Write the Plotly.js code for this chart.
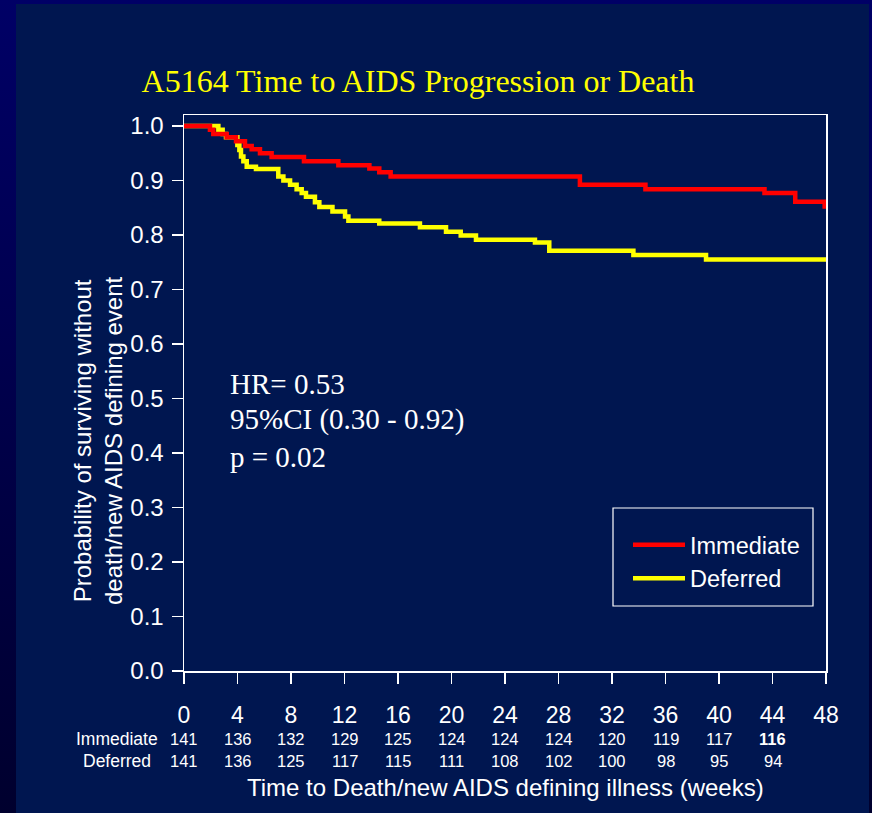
<!DOCTYPE html>
<html>
<head>
<meta charset="utf-8">
<script src="https://cdn.plot.ly/plotly-3.0.1.min.js"></script>
<style>
  html, body { margin: 0; padding: 0; width: 872px; height: 813px; overflow: hidden;
    background: linear-gradient(to bottom, #000066, #00002e); }
  #bg { position: absolute; left: 16px; top: 4px; width: 853px; height: 809px; background: #001650; }
  #chart { position: absolute; left: 0; top: 0; width: 872px; height: 813px; }
</style>
</head>
<body>
<div id="bg"></div>
<div id="chart"></div>
<script>
// Kaplan-Meier step data (weeks, survival probability)
const immTimes = [0, 1.94, 2.19, 3.19, 3.89, 4.56, 5.06, 5.68, 6.55, 8.97, 11.54, 13.86, 14.6, 15.45, 29.6, 34.5, 43.4, 45.7, 47.9, 48];
const immSurv  = [1.0, 0.993, 0.985, 0.979, 0.972, 0.963, 0.957, 0.950, 0.943, 0.935, 0.928, 0.922, 0.915, 0.907, 0.892, 0.884, 0.877, 0.861, 0.852, 0.852];

const defTimes = [0, 2.57, 2.89, 3.14, 3.99, 4.14, 4.26, 4.44, 4.69, 5.38, 7.05, 7.43, 7.93, 8.42, 8.80, 9.12, 9.79, 10.12, 11.1, 12.04, 12.29, 14.6, 17.64, 19.59, 20.69, 21.83, 26.24, 27.31, 33.6, 39.03, 48];
const defSurv  = [1.0, 0.993, 0.985, 0.979, 0.965, 0.956, 0.944, 0.935, 0.925, 0.921, 0.907, 0.900, 0.892, 0.884, 0.877, 0.870, 0.860, 0.851, 0.843, 0.834, 0.826, 0.821, 0.814, 0.806, 0.799, 0.791, 0.786, 0.771, 0.763, 0.755, 0.755];

// Number at risk table
const riskWeeks = [0, 4, 8, 12, 16, 20, 24, 28, 32, 36, 40, 44];
const immRisk = [141, 136, 132, 129, 125, 124, 124, 124, 120, 119, 117, 116];
const defRisk = [141, 136, 125, 117, 115, 111, 108, 102, 100, 98, 95, 94];

const xTicks = [0, 4, 8, 12, 16, 20, 24, 28, 32, 36, 40, 44, 48];
const yTicks = [0, 0.1, 0.2, 0.3, 0.4, 0.5, 0.6, 0.7, 0.8, 0.9, 1.0];

const statLines = ["HR= 0.53", "95%CI (0.30 - 0.92)", "p = 0.02"];
const rowLabels = ["Immediate", "Deferred"];

const SANS = "Liberation Sans, Arial, sans-serif";
const SERIF = "Liberation Serif, Times New Roman, serif";
const WHITE = "#ffffff";

// pixel helpers (plot area: x 184..826, y 115..671)
const L = 184, R = 826, T = 115, B = 671, W = 872, H = 813;
const px2xp = p => (p - L) / (R - L);
const py2yp = p => (B - p) / (B - T);

const traces = [
  { x: defTimes, y: defSurv, type: "scatter", mode: "lines", name: "Deferred",
    line: { color: "#ffff00", width: 4.5, shape: "hv" }, legendrank: 2 },
  { x: immTimes, y: immSurv, type: "scatter", mode: "lines", name: "Immediate",
    line: { color: "#ff0000", width: 4.5, shape: "hv" }, legendrank: 1 }
];

const annotations = [];
// stats text
statLines.forEach((t, i) => {
  annotations.push({ text: t, xref: "paper", yref: "paper", x: px2xp(228), y: py2yp([384, 420, 457][i]),
    xanchor: "left", yanchor: "middle", showarrow: false, font: { family: SERIF, size: 29, color: WHITE } });
});
// risk table row labels
[738.5, 761].forEach((py, i) => {
  annotations.push({ text: rowLabels[i], xref: "paper", yref: "paper", x: px2xp(117), y: py2yp(py),
    xanchor: "center", yanchor: "middle", showarrow: false, font: { family: SANS, size: 17.5, color: WHITE } });
});
riskWeeks.forEach((w, i) => {
  annotations.push({ text: i === immRisk.length - 1 ? "<b>" + immRisk[i] + "</b>" : String(immRisk[i]),
    xref: "x", yref: "paper", x: w, y: py2yp(738.5), xanchor: "center", yanchor: "middle",
    showarrow: false, font: { family: SANS, size: 16.5, color: WHITE } });
  annotations.push({ text: String(defRisk[i]),
    xref: "x", yref: "paper", x: w, y: py2yp(761), xanchor: "center", yanchor: "middle",
    showarrow: false, font: { family: SANS, size: 16.5, color: WHITE } });
});
// y-axis title (two lines, rotated)
annotations.push({ text: "Probability of surviving without<br>death/new AIDS defining event",
  xref: "paper", yref: "paper", x: px2xp(98), y: py2yp(441), xanchor: "center", yanchor: "middle",
  textangle: -90, showarrow: false, font: { family: SANS, size: 24, color: WHITE } });
// x-axis title
annotations.push({ text: "Time to Death/new AIDS defining illness (weeks)",
  xref: "paper", yref: "paper", x: 0.5, y: py2yp(787), xanchor: "center", yanchor: "middle",
  showarrow: false, font: { family: SANS, size: 24, color: WHITE } });

const layout = {
  width: W, height: H,
  margin: { l: L, r: W - R, t: T, b: H - B, pad: 0 },
  paper_bgcolor: "rgba(0,0,0,0)",
  plot_bgcolor: "rgba(0,0,0,0)",
  title: { text: "A5164 Time to AIDS Progression or Death", x: 418 / W, xanchor: "center",
    y: 1 - 81 / H, yanchor: "middle", font: { family: SERIF, size: 32, color: "#ffff00" } },
  xaxis: {
    range: [0, 48], tickmode: "array", tickvals: xTicks, ticktext: xTicks.map(String),
    ticks: "outside", ticklen: 11, tickwidth: 1.5, tickcolor: WHITE,
    showline: true, linecolor: WHITE, linewidth: 1.5, mirror: true,
    showgrid: false, zeroline: false, ticklabelstandoff: 12,
    tickfont: { family: SANS, size: 23, color: WHITE }
  },
  yaxis: {
    range: [0, 1.02], tickmode: "array", tickvals: yTicks, ticktext: yTicks.map(v => v.toFixed(1)),
    ticks: "outside", ticklen: 11, tickwidth: 1.5, tickcolor: WHITE,
    showline: true, linecolor: WHITE, linewidth: 1.5, mirror: true,
    showgrid: false, zeroline: false, ticklabelstandoff: 3,
    tickfont: { family: SANS, size: 24, color: WHITE }
  },
  showlegend: true,
  legend: {
    x: px2xp(628), y: py2yp(523), xanchor: "left", yanchor: "top",
    bgcolor: "rgba(0,0,0,0)", borderwidth: 0, itemwidth: 52,
    font: { family: SANS, size: 23.5, color: WHITE }, tracegroupgap: 0
  },
  shapes: [
    { type: "rect", xref: "paper", yref: "paper", x0: px2xp(613), x1: px2xp(813), y0: py2yp(606), y1: py2yp(508),
      line: { color: WHITE, width: 1.2 }, fillcolor: "rgba(0,0,0,0)" }
  ],
  annotations: annotations
};

Plotly.newPlot("chart", traces, layout, { displayModeBar: false, staticPlot: true });
</script>
</body>
</html>
